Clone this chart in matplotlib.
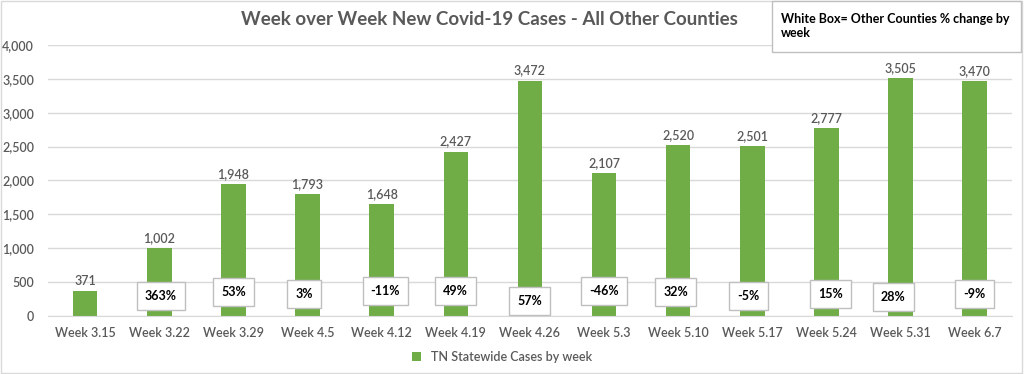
import matplotlib.pyplot as plt
import numpy as np
from matplotlib.patches import Rectangle

# Data
weeks = ["Week 3.15", "Week 3.22", "Week 3.29", "Week 4.5", "Week 4.12", "Week 4.19", "Week 4.26",
         "Week 5.3", "Week 5.10", "Week 5.17", "Week 5.24", "Week 5.31", "Week 6.7"]
cases = [371, 1002, 1948, 1793, 1648, 2427, 3472, 2107, 2520, 2501, 2777, 3505, 3470]
pct_change = ["", "363%", "53%", "3%", "-11%", "49%", "57%", "-46%", "32%", "-5%", "15%", "28%", "-9%"]

# where the white boxes sit (layout only)
box_y = [0, 295, 354, 325, 369, 369, 221, 369, 354, 295, 325, 280, 325]
box_dx = [0, 0.02, 0.0, -0.05, 0.05, 0.0, 0.0, 0.0, -0.03, -0.05, 0.05, -0.1, 0.0]

green = "#70AD47"
gray_txt = "#595959"
plt.rcParams["font.family"] = ["Lato", "DejaVu Sans"]

fig = plt.figure(figsize=(10.24, 3.74), dpi=100)
ax = fig.add_axes([0.047, 0.155, 0.941, 0.725])

x = np.arange(len(weeks))
bars = ax.bar(x, cases, width=0.33, color=green, label="TN Statewide Cases by week", zorder=2)

for xi, v in zip(x, cases):
    ax.text(xi, v + 60, f"{v:,}", ha="center", va="bottom", fontsize=9, fontweight="semibold",
            color=gray_txt, zorder=4)

for xi, p, by, dx in zip(x, pct_change, box_y, box_dx):
    if not p:
        continue
    ax.text(xi + dx, by, p, ha="center", va="center", fontsize=9, fontweight="bold", color="black",
            zorder=5, bbox=dict(boxstyle="square,pad=0.65", facecolor="white", edgecolor="#BFBFBF", linewidth=1))

ax.set_xlim(-0.5, len(weeks) - 0.5)
ax.set_ylim(0, 4000)
ax.set_yticks(np.arange(0, 4001, 500))
ax.yaxis.set_major_formatter(plt.FuncFormatter(lambda v, _: f"{int(v):,}"))
ax.set_xticks(x)
ax.set_xticklabels(weeks)
ax.tick_params(axis="both", length=0, labelsize=9, colors=gray_txt)
ax.tick_params(axis="x", pad=8)
ax.tick_params(axis="y", pad=10)
for lbl in ax.get_xticklabels() + ax.get_yticklabels():
    lbl.set_fontweight("semibold")
ax.grid(axis="y", color="#D9D9D9", linewidth=1, zorder=0)
for s in ["top", "right", "left"]:
    ax.spines[s].set_visible(False)
ax.spines["bottom"].set_color("#D9D9D9")

fig.text(0.478, 0.948, "Week over Week New Covid-19 Cases - All Other Counties", ha="center", va="center",
         fontsize=13.5, fontweight="bold", color=gray_txt)

fig.legend(loc="center", bbox_to_anchor=(0.49, 0.045), frameon=False, fontsize=9,
           handlelength=0.7, handleheight=0.7, labelcolor=gray_txt,
           prop={"weight": "semibold", "size": 9})

# note box top right
fig.patches.append(Rectangle((0.754, 0.86), 0.243, 0.138, transform=fig.transFigure,
                             facecolor="white", edgecolor="#BFBFBF", linewidth=1, zorder=6))
fig.text(0.763, 0.965, "White Box= Other Counties % change by\nweek", ha="left", va="top",
         fontsize=9, fontweight="bold", color="black", zorder=7, linespacing=1.2)

# outer border
fig.patches.append(Rectangle((0.001, 0.002), 0.997, 0.995, transform=fig.transFigure,
                             facecolor="none", edgecolor="#D9D9D9", linewidth=1))

fig.savefig("out.png", dpi=100)
